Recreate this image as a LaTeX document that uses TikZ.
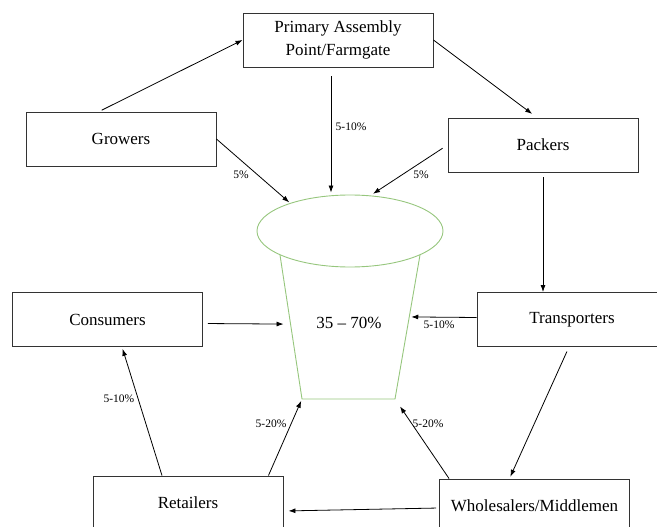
\documentclass[tikz,border=0pt]{standalone}
\usepackage{fontspec}
\setmainfont{Liberation Serif}
\usetikzlibrary{arrows.meta,shapes.geometric,calc}
\definecolor{cupgreen}{RGB}{150,198,125}
\tikzset{
  stage/.style={draw=black!80, line width=0.9pt, minimum width=190pt, minimum height=54pt, inner sep=0pt, align=center, font=\fontsize{17}{23}\selectfont},
  flow/.style={draw=black, line width=0.8pt, -{Latex[length=7pt,width=5pt]}},
  cupline/.style={draw=cupgreen, line width=0.9pt},
  share/.style={font=\fontsize{11.5}{13}\selectfont, inner sep=0pt},
  bigshare/.style={font=\fontsize{17}{20}\selectfont, inner sep=0pt},
}

\begin{document}
\begin{tikzpicture}[x=1pt,y=-1pt]
\useasboundingbox (0,0) rectangle (657,527);
% the stages of the chain
\node[stage] (primary) at (338,40) {Primary Assembly\\Point/Farmgate};
\node[stage] (growers) at (121,139) {Growers};
\node[stage] (packers) at (543,145) {Packers};
\node[stage] (consumers) at (107.5,319.5) {Consumers};
\node[stage] (transporters) at (572,319.5) {Transporters};
\node[stage] (retailers) at (188,503) {Retailers};
\node[stage] (wholesalers) at (534.5,506) {Wholesalers/Middlemen};
% the loss cup
\node[ellipse, cupline, minimum width=186pt, minimum height=72pt, inner sep=0pt] (cuptop) at (350,231) {};
\coordinate (cupTL) at (280,255);
\coordinate (cupTR) at (420,255);
\coordinate (cupBL) at (302,399);
\coordinate (cupBR) at (395,399);
\draw[cupline] (cupTL) -- (cupBL) -- (cupBR) -- (cupTR);
\coordinate (cupL) at ($(cupTL)!0.48!(cupBL)$);
\coordinate (cupR) at ($(cupTR)!0.43!(cupBR)$);
\node[bigshare] (loss) at (349,323) {35 -- 70\%};
% flows along the chain
\draw[flow, shorten <=3pt] ([xshift=-22pt]growers.north) -- (primary.west);
\draw[flow, shorten >=6pt] (primary.east) -- ([xshift=-6pt]packers.north);
\draw[flow, shorten <=5pt] (packers.south) -- (packers.south |- transporters.north);
\draw[flow, shorten <=5pt, shorten >=2pt] ([xshift=-3pt]transporters.south) -- ([xshift=-25pt]wholesalers.north);
\draw[flow, shorten <=3pt, shorten >=5pt] ([yshift=-2pt]wholesalers.west) -- ([yshift=-8pt]retailers.east);
\draw[flow, shorten >=2pt] ([xshift=-26pt]retailers.north) -- ([xshift=14.5pt]consumers.south);
% losses into the cup
\draw[flow, shorten <=9pt, shorten >=2pt] ([xshift=-7pt]primary.south) -- ([xshift=-7pt]primary.south |- cuptop.north);
\draw[flow, shorten >=1pt] (growers.east) -- (cuptop.155);
\draw[flow, shorten <=6pt, shorten >=3pt] (packers.west) -- (cuptop.60);
\draw[flow, shorten >=2pt] ([yshift=2pt]transporters.west) -- (cupR);
\draw[flow, shorten <=5pt, shorten >=7pt] ([yshift=-4pt]consumers.east) -- (cupL);
\draw[flow, shorten >=2pt] ([xshift=-15pt]retailers.north east) -- (cupBL);
\draw[flow, shorten >=9pt] ([xshift=10pt]wholesalers.north west) -- (cupBR);
% shares
\node[share] (pctprimary) at (351,127) {5-10\%};
\node[share] (pctgrowers) at (241,175) {5\%};
\node[share] (pctpackers) at (421,175) {5\%};
\node[share] (pcttransporters) at (439,325) {5-10\%};
\node[share] (pctconsumers) at (119,399) {5-10\%};
\node[share] (pctretailers) at (271,424) {5-20\%};
\node[share] (pctwholesalers) at (428,424) {5-20\%};
\end{tikzpicture}
\end{document}
